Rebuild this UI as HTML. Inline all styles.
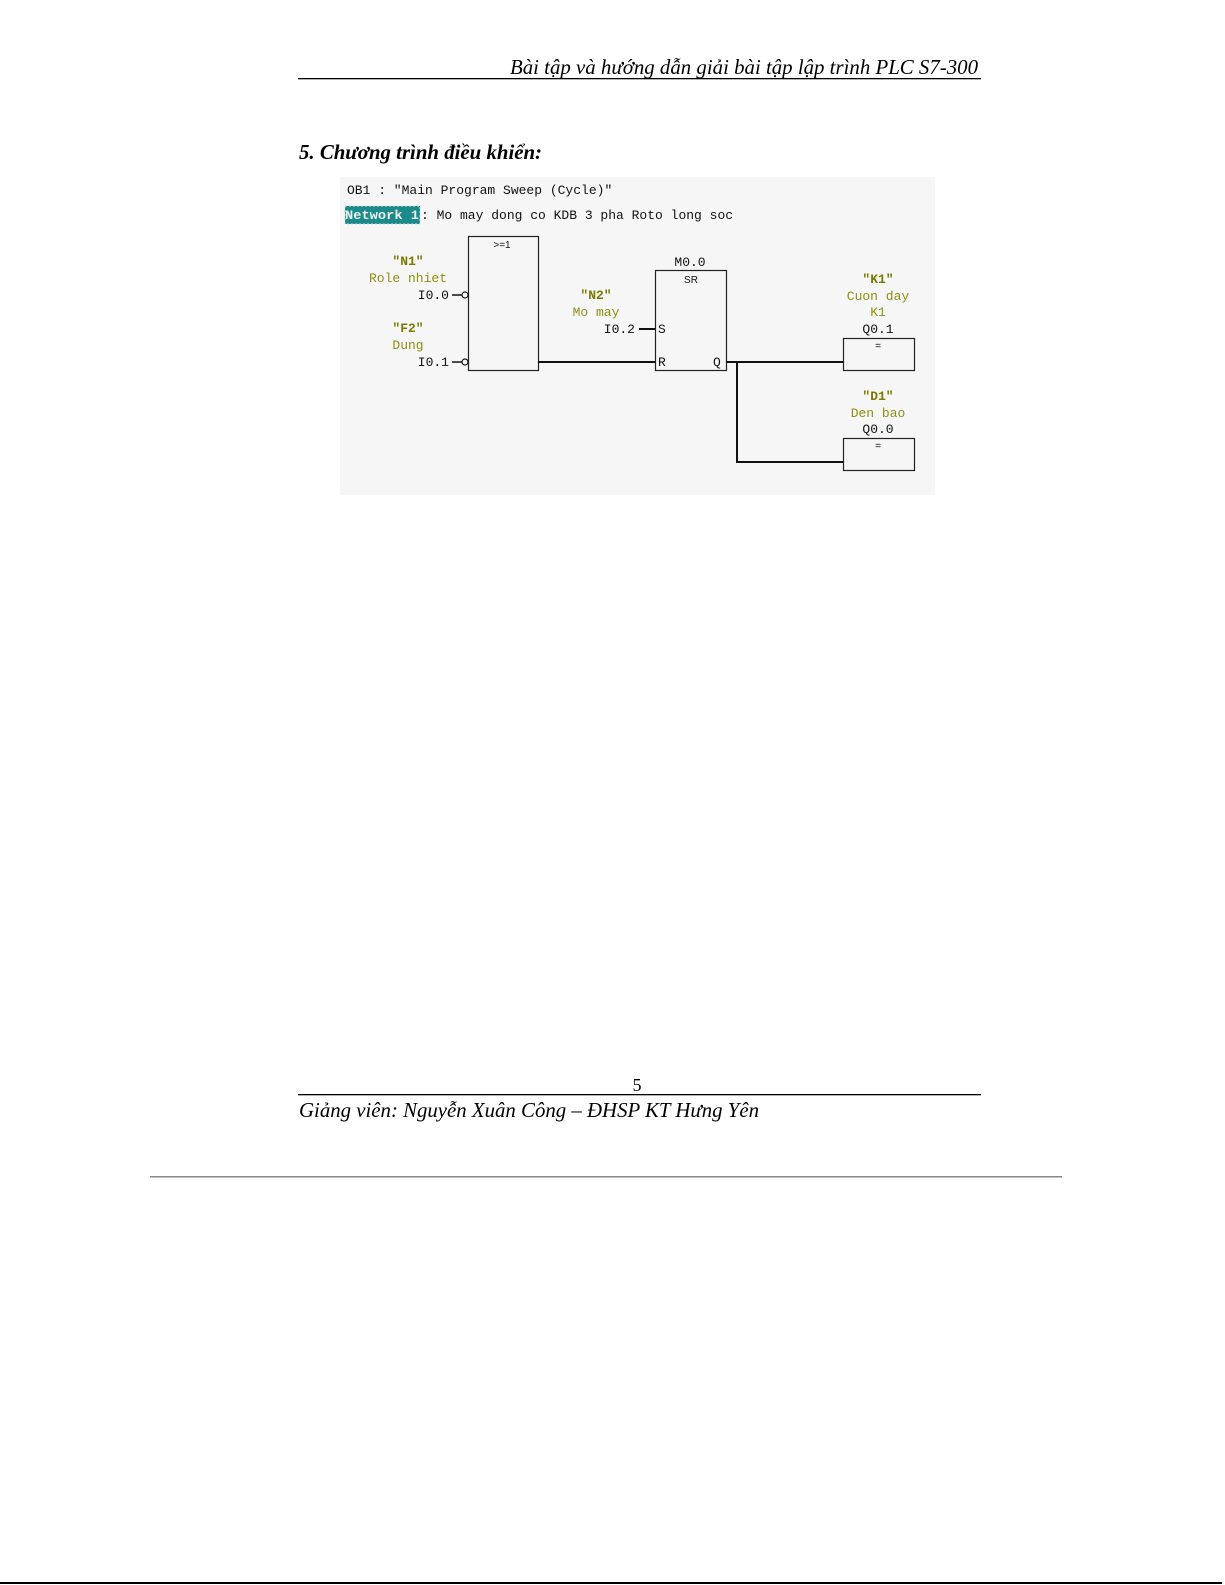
<!DOCTYPE html>
<html><head><meta charset="utf-8"><style>
html,body{margin:0;padding:0;background:#fff;}
svg{display:block}
.m{font-family:"Liberation Mono",monospace;font-size:13px;fill:#111}
.o{font-family:"Liberation Mono",monospace;font-size:13px;fill:#8f8f10}
.ob{font-family:"Liberation Mono",monospace;font-size:13px;fill:#7a7a00;font-weight:bold}
.s{font-family:"Liberation Sans",sans-serif;font-size:10px;fill:#111}
.ser{font-family:"Liberation Serif",serif;font-style:italic;font-size:21px;fill:#000}
</style></head><body>
<svg width="1225" height="1585" viewBox="0 0 1225 1585" xmlns="http://www.w3.org/2000/svg">
<text class="ser" x="978" y="74" text-anchor="end" textLength="468" lengthAdjust="spacingAndGlyphs">Bài tập và hướng dẫn giải bài tập lập trình PLC S7-300</text>
<rect x="298" y="78" width="683" height="1.3" fill="#000"/>
<text class="ser" x="299" y="159" font-weight="bold" textLength="243" lengthAdjust="spacingAndGlyphs">5. Chương trình điều khiển:</text>

<rect x="340" y="177" width="595" height="318" fill="#f6f6f6"/>
<text class="m" x="347" y="194">OB1 :  "Main Program Sweep (Cycle)"</text>
<rect x="345" y="206" width="75" height="18" fill="#1a8a8a" stroke="#ddd" stroke-dasharray="2,2"/>
<text class="m" x="345" y="219" style="fill:#f0f0f0;font-weight:bold" textLength="74" lengthAdjust="spacingAndGlyphs">Network 1</text>
<text class="m" x="421" y="219">: Mo may dong co KDB 3 pha Roto long soc</text>

<rect x="468.5" y="236.5" width="70" height="134" fill="none" stroke="#222" stroke-width="1.2"/>
<text class="s" x="502" y="248" text-anchor="middle">&gt;=1</text>
<text class="ob" x="408" y="265" text-anchor="middle">"N1"</text>
<text class="o" x="408" y="282" text-anchor="middle">Role nhiet</text>
<text class="m" x="449" y="299" text-anchor="end">I0.0</text>
<line x1="452" y1="295" x2="462" y2="295" stroke="#111" stroke-width="1.5"/>
<circle cx="465" cy="295" r="3" fill="#fff" stroke="#111" stroke-width="1.2"/>
<text class="ob" x="408" y="332" text-anchor="middle">"F2"</text>
<text class="o" x="408" y="349" text-anchor="middle">Dung</text>
<text class="m" x="449" y="366" text-anchor="end">I0.1</text>
<line x1="452" y1="362" x2="462" y2="362" stroke="#111" stroke-width="1.5"/>
<circle cx="465" cy="362" r="3" fill="#fff" stroke="#111" stroke-width="1.2"/>

<line x1="538" y1="362" x2="655" y2="362" stroke="#111" stroke-width="2"/>

<text class="ob" x="596" y="299" text-anchor="middle">"N2"</text>
<text class="o" x="596" y="316" text-anchor="middle">Mo may</text>
<text class="m" x="635" y="333" text-anchor="end">I0.2</text>
<line x1="639" y1="329" x2="655" y2="329" stroke="#111" stroke-width="2"/>

<text class="m" x="690" y="266" text-anchor="middle">M0.0</text>
<rect x="655.5" y="270.5" width="71" height="100" fill="none" stroke="#222" stroke-width="1.2"/>
<text class="s" x="691" y="283" text-anchor="middle">SR</text>
<text class="m" x="658" y="333">S</text>
<text class="m" x="658" y="366">R</text>
<text class="m" x="713" y="366">Q</text>

<polyline points="726,362 843,362" fill="none" stroke="#111" stroke-width="2"/>
<polyline points="737,362 737,462 843,462" fill="none" stroke="#111" stroke-width="2"/>

<text class="ob" x="878" y="283" text-anchor="middle">"K1"</text>
<text class="o" x="878" y="300" text-anchor="middle">Cuon day</text>
<text class="o" x="878" y="316" text-anchor="middle">K1</text>
<text class="m" x="878" y="333" text-anchor="middle">Q0.1</text>
<rect x="843.5" y="338.5" width="71" height="32" fill="none" stroke="#222" stroke-width="1.2"/>
<text class="s" x="878" y="349" text-anchor="middle">=</text>

<text class="ob" x="878" y="400" text-anchor="middle">"D1"</text>
<text class="o" x="878" y="417" text-anchor="middle">Den bao</text>
<text class="m" x="878" y="433" text-anchor="middle">Q0.0</text>
<rect x="843.5" y="438.5" width="71" height="32" fill="none" stroke="#222" stroke-width="1.2"/>
<text class="s" x="878" y="449" text-anchor="middle">=</text>

<text class="ser" x="637" y="1091" text-anchor="middle" style="font-style:normal;font-size:18px">5</text>
<rect x="298" y="1094" width="683" height="1.3" fill="#000"/>
<text class="ser" x="299" y="1117" textLength="460" lengthAdjust="spacingAndGlyphs">Giảng viên: Nguyễn Xuân Công – ĐHSP KT Hưng Yên</text>
<rect x="150" y="1176" width="912" height="1.5" fill="#888"/>
<rect x="0" y="1582" width="1222" height="2" fill="#000"/>
</svg>
</body></html>
